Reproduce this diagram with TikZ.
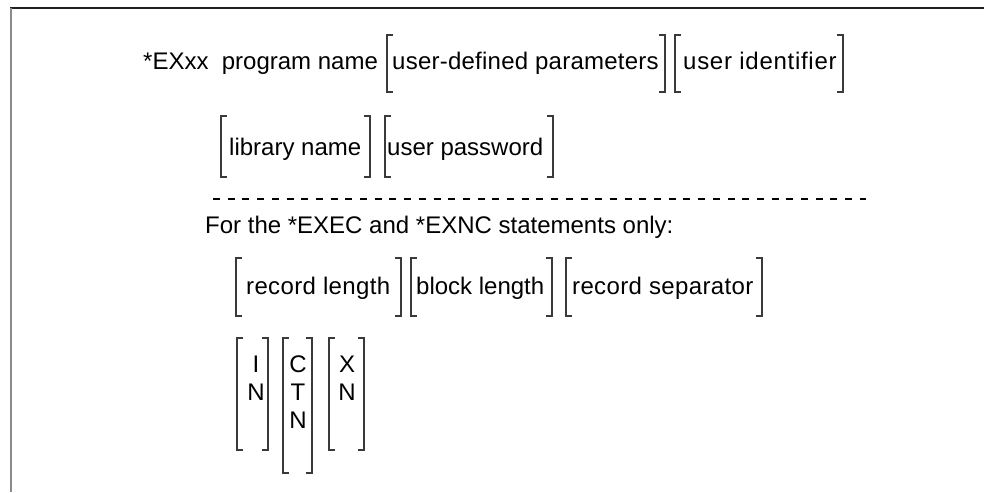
\documentclass[tikz,border=0pt]{standalone}
\usepackage{fontspec}
\setmainfont{Liberation Sans}
\definecolor{brkgray}{HTML}{3A3A3A}
\definecolor{framegray}{HTML}{8A8A8A}
\definecolor{frametop}{HTML}{202020}
% draw a pair of square brackets round an optional item
\newcommand\optgroup[4]{%
  \draw[brk] (#1+6,#3) -- (#1,#3) -- (#1,#4) -- (#1+6,#4);
  \draw[brk] (#2-6,#3) -- (#2,#3) -- (#2,#4) -- (#2-6,#4);
}
\begin{document}
\begin{tikzpicture}[x=1pt,y=-1pt,
  lbl/.style={anchor=base west,inner sep=0pt,font=\fontsize{24}{29}\selectfont},
  spaced/.style={lbl,font=\fontsize{24}{29}\selectfont\addfontfeature{LetterSpace=#1}},
  letter/.style={anchor=base,inner sep=0pt,font=\fontsize{24}{29}\selectfont},
  brk/.style={draw=brkgray,line width=1.3pt},
  sepline/.style={draw=black,line width=2pt,dash pattern=on 7pt off 7.7pt}]
\useasboundingbox (0,0) rectangle (984,492);

% page frame (top and left edges)
\draw[frametop,line width=1.5pt] (10,8) -- (984,8);
\draw[framegray,line width=2pt] (11,8) -- (11,492);

% statement line
\node[lbl] (prog) at (143,70) {*EXxx\ \ program name};
\node[spaced=1] (udp)  at (392,70) {user-defined parameters};
\node[spaced=3] (uid)  at (683,70) {user identifier};
\optgroup{387}{665}{35}{92}
\optgroup{675}{843}{35}{92}

% library and password
\node[lbl] (lib) at (229,155) {library name};
\node[lbl] (pwd) at (387,155) {user password};
\optgroup{221}{370}{116}{177}
\optgroup{385}{553}{116}{177}

% separator
\coordinate (sepA) at (213,199);
\coordinate (sepB) at (866,199);
\draw[sepline] (sepA) -- (sepB);

\node[lbl] (note) at (205,233) {For the *EXEC and *EXNC statements only:};

% record and block options
\node[spaced=1.5] (rlen) at (246,294) {record length};
\node[lbl] (blen) at (416,294) {block length};
\node[spaced=1.5] (rsep) at (572,294) {record separator};
\optgroup{236}{401}{258}{316}
\optgroup{411}{552}{258}{316}
\optgroup{566}{762}{258}{316}

% single-letter choices
\node[letter] (i1) at (256,372) {I};
\node[letter] (n1) at (256,400) {N};
\optgroup{237}{268}{338}{450}
\node[letter] (c2) at (298,372) {C};
\node[letter] (t2) at (298,400) {T};
\node[letter] (n2) at (298,428) {N};
\optgroup{283}{312}{338}{473}
\node[letter] (x3) at (347,372) {X};
\node[letter] (n3) at (347,400) {N};
\optgroup{329}{364}{338}{450}
\end{tikzpicture}
\end{document}
